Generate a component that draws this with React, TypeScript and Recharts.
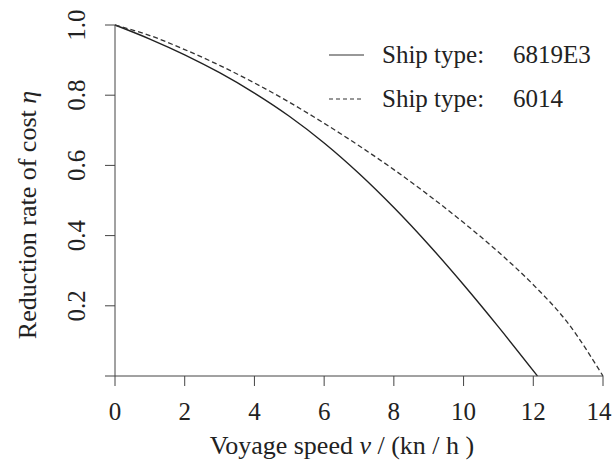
import React from 'react';
import { LineChart, Line, XAxis, YAxis, Legend } from 'recharts';

const speeds6819E3 = [0, 1, 2, 3, 4, 5, 6, 7, 8, 9, 10, 11, 12.12];
const eta6819E3 = [1, 0.96, 0.915, 0.864, 0.806, 0.74, 0.664, 0.577, 0.48, 0.374, 0.26, 0.14, 0];
const speeds6014 = [0, 1, 2, 3, 4, 5, 6, 7, 8, 9, 10, 11, 12, 13, 14];
const eta6014 = [1, 0.97, 0.93, 0.885, 0.835, 0.78, 0.72, 0.656, 0.588, 0.515, 0.437, 0.353, 0.26, 0.15, 0];
const xTicks = [0, 2, 4, 6, 8, 10, 12, 14];
const yTicks = [0, 0.2, 0.4, 0.6, 0.8, 1.0];
const seriesNames = ['6819E3', '6014'];

const data6819E3 = speeds6819E3.map((v, i) => ({ v, eta: eta6819E3[i] }));
const data6014 = speeds6014.map((v, i) => ({ v, eta: eta6014[i] }));

const FONT = '"Liberation Serif", "DejaVu Serif", serif';
const AX = '#444';

const YTick = (props: any) => {
  const { x, y, payload } = props;
  if (payload.value === 0) return null;
  return (
    <text x={x - 18} y={y} transform={`rotate(-90, ${x - 18}, ${y})`} textAnchor="middle" fontFamily={FONT} fontSize={25} fill="#222">
      {payload.value.toFixed(1)}
    </text>
  );
};

const XTick = (props: any) => {
  const { x, y, payload } = props;
  const dx = payload.value === 14 ? -4 : 0;
  return (
    <text x={x + dx} y={y + 32} textAnchor="middle" fontFamily={FONT} fontSize={25} fill="#222">
      {payload.value}
    </text>
  );
};

const LegendBox = () => (
  <div style={{ fontFamily: FONT, fontSize: 25, color: '#222', lineHeight: '44px' }}>
    {seriesNames.map((n, i) => (
      <div key={n} style={{ display: 'flex', alignItems: 'center', height: 44 }}>
        <svg width={53} height={10} style={{ flex: 'none' }}>
          <line x1={0} y1={5} x2={35} y2={5} stroke="#333" strokeWidth={1.2} strokeDasharray={i === 1 ? '4 3' : undefined} />
        </svg>
        <span style={{ width: 131, display: 'inline-block', whiteSpace: 'nowrap' }}>Ship type:</span>
        <span style={{ whiteSpace: 'nowrap' }}>{n}</span>
      </div>
    ))}
  </div>
);

export default function App() {
  return (
    <div style={{ position: 'absolute', left: 0, top: 0 }}>
      <LineChart width={612} height={468} margin={{ top: 25, right: 9, left: 0, bottom: 0 }}>
        <XAxis
          dataKey="v"
          type="number"
          domain={[0, 14]}
          ticks={xTicks}
          allowDuplicatedCategory={false}
          height={92}
          tickSize={10}
          stroke={AX}
          tick={<XTick />}
          label={{
            content: () => (
              <text x={342} y={454} textAnchor="middle" fontFamily={FONT} fontSize={26} fill="#222">
                Voyage speed <tspan fontStyle="italic">v</tspan> / (kn / h )
              </text>
            ),
          }}
        />
        <YAxis
          type="number"
          domain={[0, 1]}
          ticks={yTicks}
          width={115}
          tickSize={10}
          stroke={AX}
          tick={<YTick />}
          label={{
            content: () => (
              <text x={36} y={215} transform="rotate(-90, 36, 215)" textAnchor="middle" fontFamily={FONT} fontSize={26} fill="#222">
                Reduction rate of cost <tspan fontStyle="italic">η</tspan>
              </text>
            ),
          }}
        />
        <Legend
          content={() => <LegendBox />}
          wrapperStyle={{ position: 'absolute', left: 329, top: 33, width: 280, height: 0, overflow: 'visible' }}
        />
        <Line data={data6819E3} dataKey="eta" name={seriesNames[0]} type="monotone" stroke="#222" strokeWidth={1.4} dot={false} isAnimationActive={false} />
        <Line data={data6014} dataKey="eta" name={seriesNames[1]} type="monotone" stroke="#333" strokeWidth={1.3} strokeDasharray="5 3" dot={false} isAnimationActive={false} />
      </LineChart>
    </div>
  );
}
